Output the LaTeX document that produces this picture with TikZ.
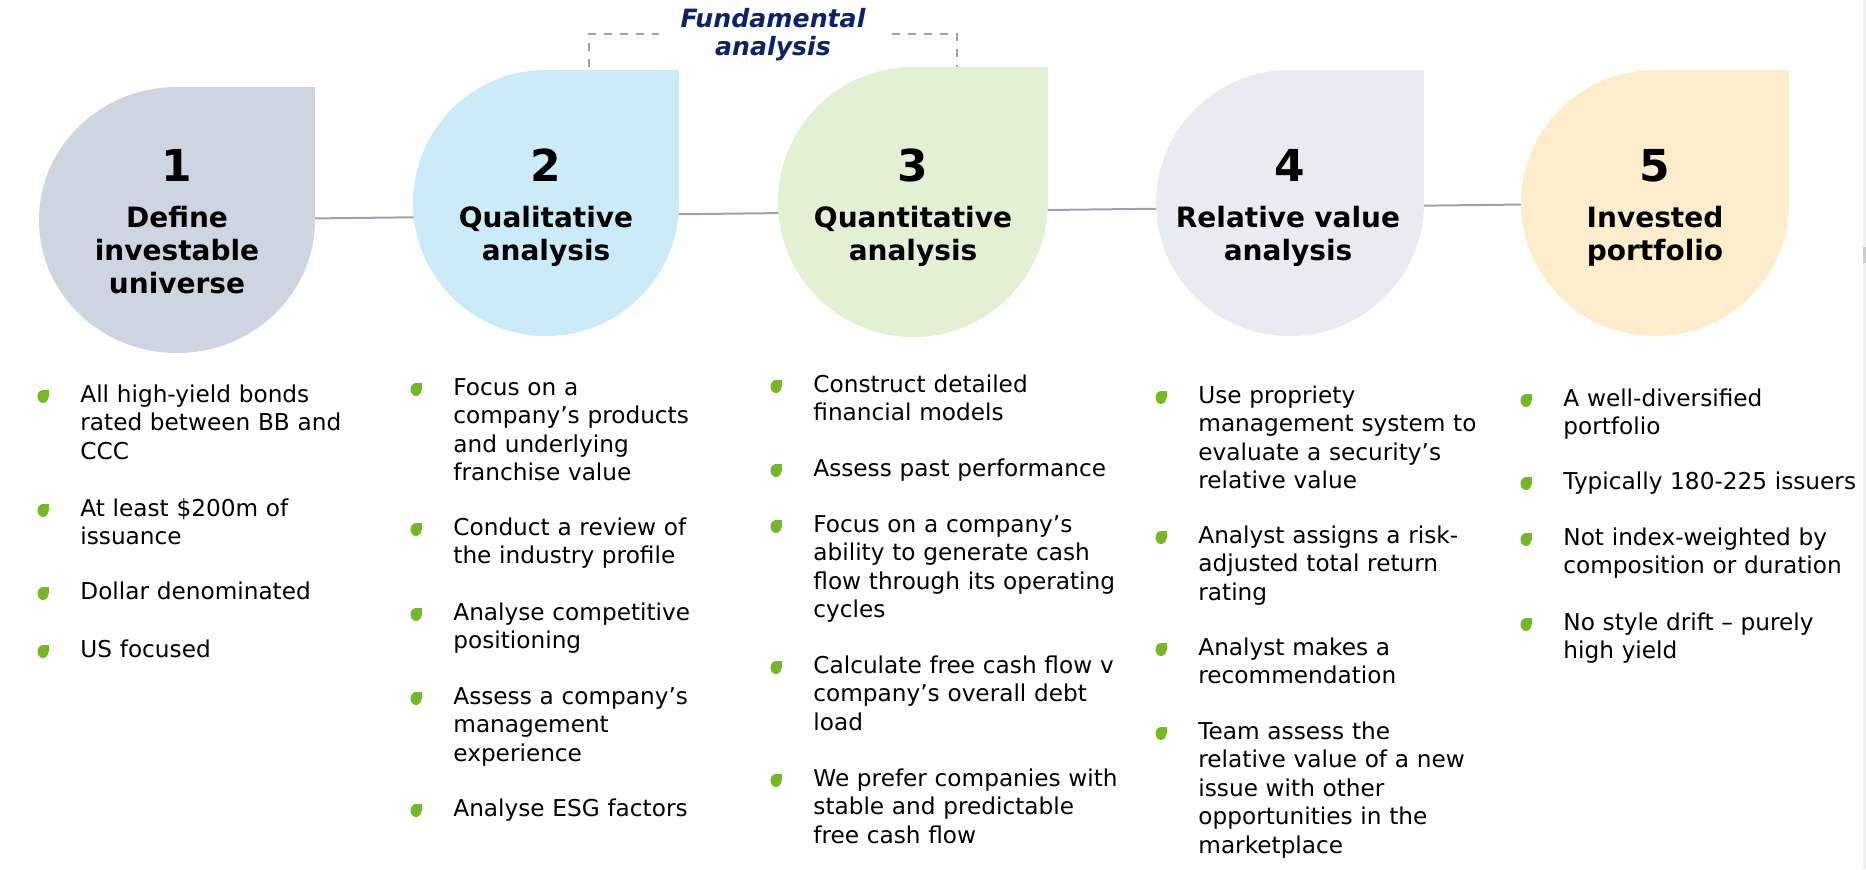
\documentclass[tikz,border=0pt]{standalone}
\usepackage{fontspec}
\setmainfont{DejaVu Sans}
\usepackage{tikz}
\usetikzlibrary{shapes.geometric,backgrounds}

\definecolor{dropone}{HTML}{CDD5E1}
\definecolor{droptwo}{HTML}{CCEBF8}
\definecolor{dropthree}{HTML}{E2F0D4}
\definecolor{dropfour}{HTML}{E8ECF0}
\definecolor{dropfive}{HTML}{FDEDCC}
\definecolor{leafgreen}{HTML}{76B72A}
\definecolor{titlenavy}{HTML}{0C2366}
\definecolor{linkgray}{HTML}{9AA3AF}

\tikzset{
  drop/.style={ellipse, inner sep=0pt, outer sep=0pt, minimum width=134pt, minimum height=133pt},
  stepnum/.style={anchor=base, inner sep=0pt, font=\fontsize{22}{26}\selectfont\bfseries},
  stephead/.style={anchor=base, inner sep=0pt, text width=150pt, align=center,
    font=\fontsize{14}{16.5}\selectfont\bfseries},
  point/.style={anchor=base west, inner sep=0pt, text width=170pt, align=left,
    font=\fontsize{11.6}{14.25}\selectfont},
  leaf/.pic={\fill[leafgreen] (0,0) ellipse[x radius=5.5, y radius=6.5];
    \fill[leafgreen] (0,0) rectangle (5.5,-6.5);}
}

\begin{document}
\begin{tikzpicture}[x=0.5pt, y=-0.5pt]
  \useasboundingbox (0,0) rectangle (1866,869);

  % the five stages
  \node[drop, fill=dropone, minimum width=138pt] (s1) at (177,220) {};
  \node[drop, fill=droptwo, minimum width=133pt] (s2) at (546,203) {};
  \node[drop, fill=dropthree, minimum size=135pt] (s3) at (913,202) {};
  \node[drop, fill=dropfour] (s4) at (1290,203) {};
  \node[drop, fill=dropfive] (s5) at (1655,203) {};
  \foreach \s/\c in {s1/dropone,s2/droptwo,s3/dropthree,s4/dropfour,s5/dropfive}
    \fill[\c] (\s.center) rectangle (\s.north -| \s.east);

  \begin{scope}[on background layer]
    \draw[linkgray, line width=1pt] (s1) -- (s5);
  \end{scope}

  \node[stepnum] (n1) at (177,181) {1};
  \node[stepnum] (n2) at (546,181) {2};
  \node[stepnum] (n3) at (913,181) {3};
  \node[stepnum] (n4) at (1290,181) {4};
  \node[stepnum] (n5) at (1655,181) {5};

  \node[stephead] (h1) at (177,227) {Define\\investable\\universe};
  \node[stephead] (h2) at (546,227) {Qualitative\\analysis};
  \node[stephead] (h3) at (913,227) {Quantitative\\analysis};
  \node[stephead] (h4) at (1288,227) {Relative value\\analysis};
  \node[stephead] (h5) at (1655,227) {Invested\\portfolio};

  % fundamental analysis bracket
  \coordinate (bl) at (589,67);
  \coordinate (br) at (957,67);
  \draw[linkgray, line width=1pt, dash pattern=on 4pt off 4pt] (bl) -- ++(0,-33) -| (br);
  \node[anchor=base, fill=white, inner xsep=7pt, inner ysep=1pt, text width=100pt, align=center,
    font=\fontsize{12.6}{14}\selectfont\bfseries\itshape, text=titlenavy] (fund) at (773,27)
    {Fundamental\\analysis};

  % column 1
  \node[point] (u1) at (80,402) {All high-yield bonds\\rated between BB and\\CCC};
  \node[point] (u2) at (80,516) {At least \$200m of\\issuance};
  \node[point] (u3) at (80,599) {Dollar denominated};
  \node[point] (u4) at (80,657) {US focused};

  % column 2
  \node[point] (ql1) at (453,395) {Focus on a\\company’s products\\and underlying\\franchise value};
  \node[point] (ql2) at (453,535) {Conduct a review of\\the industry profile};
  \node[point] (ql3) at (453,620) {Analyse competitive\\positioning};
  \node[point] (ql4) at (453,704) {Assess a company’s\\management\\experience};
  \node[point] (ql5) at (453,816) {Analyse ESG factors};

  % column 3
  \node[point] (qn1) at (813,392) {Construct detailed\\financial models};
  \node[point] (qn2) at (813,476) {Assess past performance};
  \node[point] (qn3) at (813,532) {Focus on a company’s\\ability to generate cash\\flow through its operating\\cycles};
  \node[point] (qn4) at (813,673) {Calculate free cash flow v\\company’s overall debt\\load};
  \node[point] (qn5) at (813,786) {We prefer companies with\\stable and predictable\\free cash flow};

  % column 4
  \node[point] (rv1) at (1198,403) {Use propriety\\management system to\\evaluate a security’s\\relative value};
  \node[point] (rv2) at (1198,543) {Analyst assigns a risk-\\adjusted total return\\rating};
  \node[point] (rv3) at (1198,655) {Analyst makes a\\recommendation};
  \node[point] (rv4) at (1198,739) {Team assess the\\relative value of a new\\issue with other\\opportunities in the\\marketplace};

  % column 5
  \node[point] (ip1) at (1563,406) {A well-diversified\\portfolio};
  \node[point] (ip2) at (1563,489) {Typically 180-225 issuers};
  \node[point] (ip3) at (1563,545) {Not index-weighted by\\composition or duration};
  \node[point] (ip4) at (1563,630) {No style drift – purely\\high yield};

  \foreach \p in {u1,u2,u3,u4,ql1,ql2,ql3,ql4,ql5,qn1,qn2,qn3,qn4,qn5,rv1,rv2,rv3,rv4,ip1,ip2,ip3,ip4}
    \pic at ([shift={(-37,-5.5)}]\p.base west) {leaf};

  % right edge
  \fill[black!6] (1863,0) rectangle (1866,869);
  \fill[black!20] (1863,247) rectangle (1866,263);
\end{tikzpicture}
\end{document}
